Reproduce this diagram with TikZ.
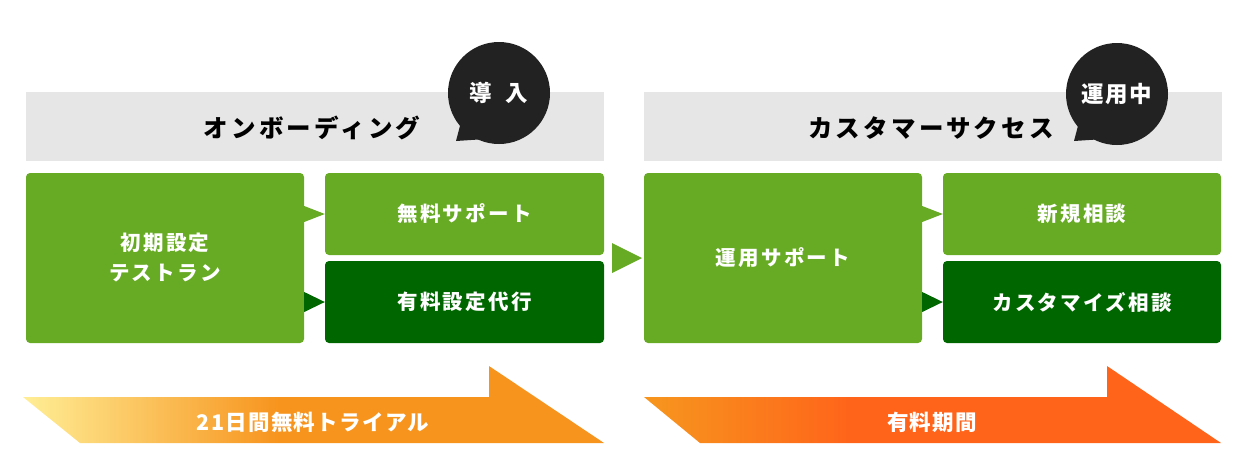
\documentclass[tikz,border=0pt]{standalone}
\usepackage{fontspec}
\setmainfont{Noto Sans CJK JP}
\usetikzlibrary{calc}
\definecolor{lgreen}{RGB}{103,170,36}
\definecolor{dgreen}{RGB}{0,102,0}
\definecolor{hgray}{RGB}{230,230,230}
\definecolor{bub}{RGB}{34,34,34}
\definecolor{pyel}{RGB}{255,238,150}
\definecolor{org}{RGB}{247,148,30}
\definecolor{rorg}{RGB}{255,100,26}
\pgfdeclarehorizontalshading{shadeA}{100bp}{color(0bp)=(pyel); color(25bp)=(pyel); color(47bp)=(org); color(100bp)=(org)}
\pgfdeclarehorizontalshading{shadeB}{100bp}{color(0bp)=(org); color(26bp)=(org); color(43bp)=(rorg); color(100bp)=(rorg)}
\tikzset{
  hfont/.style={font=\fontsize{24.5}{26}\selectfont\bfseries\addfontfeatures{LetterSpace=13}},
  hdr/.style={fill=hgray, minimum width=578pt, minimum height=69pt, inner sep=0pt},
  gbox/.style={fill=lgreen, rounded corners=4pt, text=white, inner sep=0pt, align=center, font=\fontsize{20.5}{30}\selectfont\bfseries\addfontfeatures{LetterSpace=11}},
  dbox/.style={gbox, fill=dgreen},
  bubble/.style={circle, fill=bub, minimum size=102pt, inner sep=0pt, text=white, font=\fontsize{22.5}{24}\selectfont\bfseries\addfontfeatures{LetterSpace=6}},
  btxt/.style={text=white, inner sep=0pt, font=\fontsize{21.5}{22}\selectfont\bfseries\addfontfeatures{LetterSpace=6}},
}
\begin{document}
\begin{tikzpicture}[x=1pt,y=-1pt]
\useasboundingbox (0,0) rectangle (1248,475);
% left group
\node[hdr] (hL) at (315,126.5) {};
\node[hfont] (hLt) at (312,128) {オンボーディング};
\node[gbox, minimum width=278pt, minimum height=170pt] (bL) at (165,258) {初期設定\\テストラン};
\node[gbox, minimum width=279pt, minimum height=82pt] (tL) at (464.5,214) {無料サポート};
\node[dbox, minimum width=279pt, minimum height=82pt] (dL) at (464.5,302) {有料設定代行};
\fill[lgreen] (bL.east |- tL.west) ++(0,-8) -- (tL.west) -- ($(bL.east |- tL.west)+(0,8)$) -- cycle;
\fill[dgreen] (bL.east |- dL.west) ++(0,-10) -- (dL.west) -- ($(bL.east |- dL.west)+(0,10)$) -- cycle;
% middle arrow
\coordinate (mA) at (612,258);
\fill[lgreen] (mA) ++(0,-15) -- (642,258) -- ($(mA)+(0,15)$) -- cycle;
% right group
\node[hdr] (hR) at (932.5,126.5) {};
\node[hfont] (hRt) at (931,128) {カスタマーサクセス};
\node[gbox, minimum width=278pt, minimum height=170pt] (bR) at (783,258) {運用サポート};
\node[gbox, minimum width=278pt, minimum height=82pt] (tR) at (1082,214) {新規相談};
\node[dbox, minimum width=278pt, minimum height=82pt] (dR) at (1082,302) {カスタマイズ相談};
\fill[lgreen] (bR.east |- tR.west) ++(0,-8) -- (tR.west) -- ($(bR.east |- tR.west)+(0,8)$) -- cycle;
\fill[dgreen] (bR.east |- dR.west) ++(0,-10) -- (dR.west) -- ($(bR.east |- dR.west)+(0,10)$) -- cycle;
% bubbles
\fill[bub] (461,122) -- (456,141) -- (486,139) -- cycle;
\node[bubble] (bubL) at (499,93) {導\hspace{0.6em}入};
\fill[bub] (1079,122) -- (1074,141) -- (1104,139) -- cycle;
\node[bubble] (bubR) at (1117,94) {運用中};
% bottom arrows
\shade[shading=shadeA] (23,397) -- (489,397) -- (489,366) -- (604,443) -- (80,443) -- cycle;
\node[btxt] (aL) at (313,422) {21日間無料トライアル};
\shade[shading=shadeB] (644,397) -- (1107,397) -- (1107,366) -- (1221,443) -- (700,443) -- cycle;
\node[btxt] (aR) at (932,422) {有料期間};
\end{tikzpicture}
\end{document}
